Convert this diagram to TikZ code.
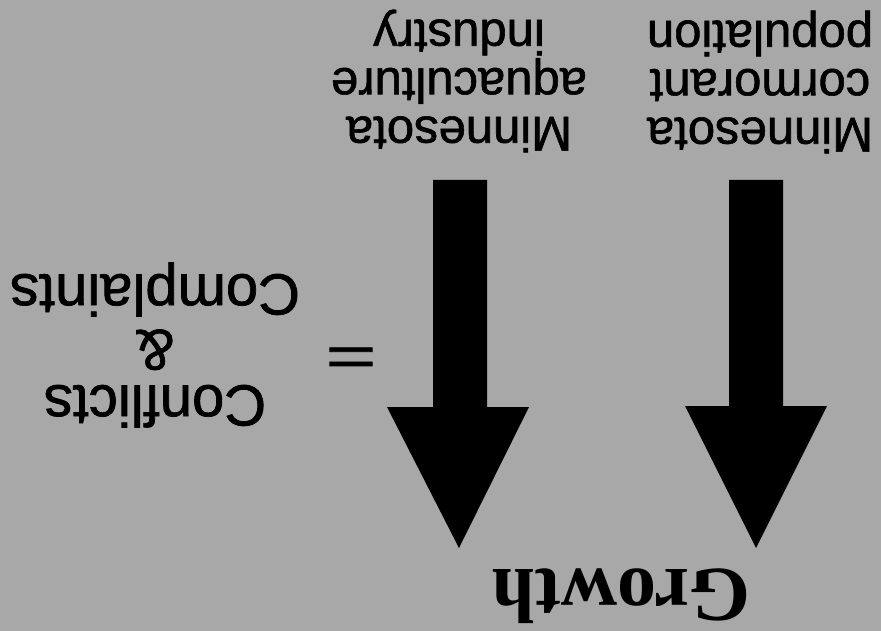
\documentclass[tikz,border=0pt]{standalone}
\usepackage{fontspec}
\setmainfont{Liberation Sans}
\newfontfamily\heavysans{Liberation Sans}[FakeBold=1.2]
\newfontfamily\serifbold{Liberation Serif}
\usetikzlibrary{positioning}

\definecolor{paper}{RGB}{168,168,168}

\begin{document}
\begin{tikzpicture}[
    x=1pt, y=-1pt,
    flip/.style={rotate=180, inner sep=0pt, align=center},
    lbl/.style={flip, font=\heavysans\fontsize{49}{48.5}\selectfont},
    res/.style={flip, font=\heavysans\fontsize{58}{55.5}\selectfont},
    eqsign/.style={flip, xscale=1.45, yscale=0.95, font=\heavysans\fontsize{60}{60}\selectfont},
    title/.style={flip, font=\serifbold\bfseries\fontsize{78}{78}\selectfont},
    bigarrow/.style={fill=black}
]
\useasboundingbox (0,0) rectangle (881,631);
\fill[paper] (0,0) rectangle (881,631);

% the two growth arrows (upside down)
\fill[bigarrow] (433,180) -- (487,180) -- (487,407) -- (529,407) -- (459,548)
    -- (387,407) -- (433,407) -- cycle;
\fill[bigarrow] (729,180) -- (783,180) -- (783,406) -- (827,406) -- (756,548)
    -- (685,406) -- (729,406) -- cycle;

\node[lbl] (cormorant) at (760,82) {Minnesota\\cormorant\\population};
\node[lbl] (aqua) at (459,81) {Minnesota\\aquaculture\\industry};
\node[eqsign] (eq) at (351,352) {=};
\node[res] (conflicts) at (155,345) {Conflicts\\\&\\Complaints};
\node[title] (growth) at (621,596) {Growth};
\end{tikzpicture}
\end{document}
